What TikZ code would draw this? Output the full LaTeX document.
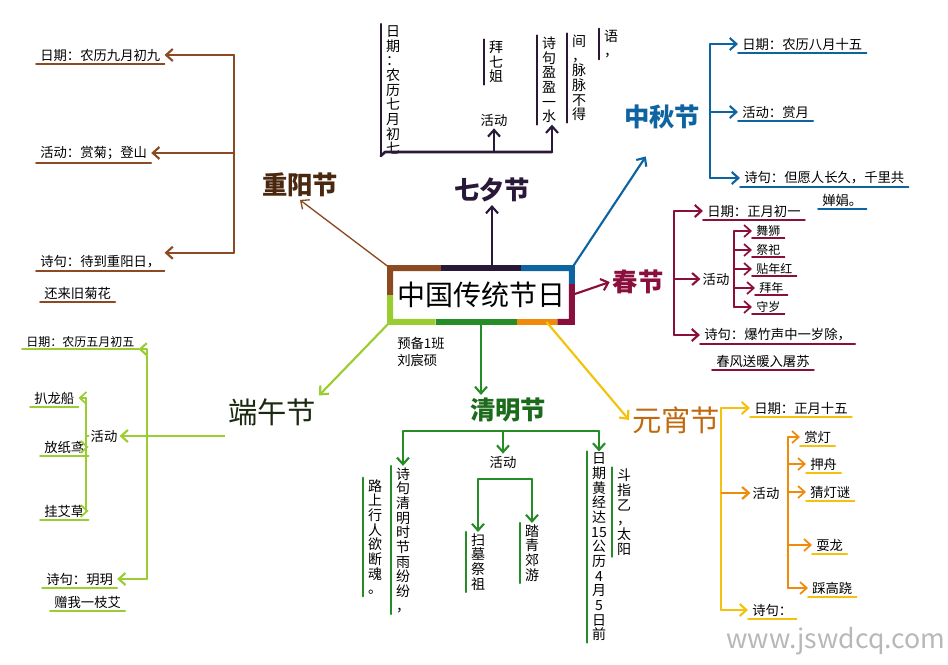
\documentclass[tikz,border=0pt]{standalone}
\usepackage{fontspec}
\setmainfont{Noto Sans CJK SC}
\usetikzlibrary{arrows.meta,calc}

\definecolor{brownc}{HTML}{8B4A22}
\definecolor{cyt}{HTML}{4A2810}
\definecolor{qxc}{HTML}{2A1838}
\definecolor{zqc}{HTML}{0E64A0}
\definecolor{cjc}{HTML}{8A0F3C}
\definecolor{qmc}{HTML}{268C26}
\definecolor{qmt}{HTML}{1C6B1C}
\definecolor{dwc}{HTML}{9ACD32}
\definecolor{dwt}{HTML}{1A2A10}
\definecolor{yxc}{HTML}{F4C20D}
\definecolor{yxo}{HTML}{F08A0A}
\definecolor{yxt}{HTML}{C06A10}

\newcommand\leaffont{\fontsize{10}{12}\selectfont}
\newcommand\smallfont{\fontsize{9}{11}\selectfont}
\newcommand\vfont{\fontsize{10.5}{11}\selectfont}

\makeatletter
\newcommand\vcol[1]{\def\vc@sep{}\@tfor\vc@ch:=#1\do{\vc@sep\vc@ch\def\vc@sep{\\}}}
\makeatother

\tikzstyle{hub} = [font=\fontsize{21}{24}\selectfont, minimum width=136pt, minimum height=40pt, inner sep=2pt]
\tikzstyle{fest} = [font=\fontsize{19}{22}\selectfont\bfseries, inner sep=2pt]
\tikzstyle{festthin} = [font=\fontsize{22}{26}\selectfont, inner sep=2pt]
\tikzstyle{lbl} = [font=\leaffont, inner sep=1.5pt]
\tikzstyle{note} = [font=\fontsize{10}{13}\selectfont, align=left]
\tikzstyle{arr} = [-{Straight Barb[length=5pt,width=9pt]}, line width=1.6pt]
\tikzstyle{ln} = [line width=2pt, line cap=round, line join=round]
\tikzstyle{bord} = [line width=4.5pt]
\tikzstyle{wm} = [font=\fontsize{20}{24}\selectfont, text=gray!70, opacity=0.8, inner sep=0pt]

\tikzset{
    leaf/.style={anchor=west, inner xsep=3pt, inner ysep=2pt, font=\leaffont,
        append after command={(\tikzlastnode.south west) edge[draw=#1, line width=1.3pt, line cap=round] (\tikzlastnode.south east)}},
    sleaf/.style={leaf=#1, font=\smallfont, inner ysep=1pt},
    vleaf/.style={align=center, text width=1.2em, inner sep=1pt, font=\vfont,
        append after command={([xshift=-2pt]\tikzlastnode.north west) edge[draw=#1, line width=1.6pt, line cap=round] ([xshift=-2pt]\tikzlastnode.south west)}}
}

\begin{document}
\begin{tikzpicture}[x=0.75pt, y=-0.75pt]
\useasboundingbox (0,0) rectangle (948,664);

% centre
\node[hub] (c) at (481,295) {中国传统节日};
\draw[bord, brownc] (c.west) -- (c.north west) -- ($(c.north west)!.28!(c.north east)$);
\draw[bord, qxc] ($(c.north west)!.28!(c.north east)$) -- ($(c.north west)!.72!(c.north east)$);
\draw[bord, zqc] ($(c.north west)!.72!(c.north east)$) -- (c.north east) -- ($(c.north east)!.3!(c.south east)$);
\draw[bord, cjc] ($(c.north east)!.3!(c.south east)$) -- (c.south east) -- ($(c.south east)!.08!(c.south west)$);
\draw[bord, yxo] ($(c.south east)!.08!(c.south west)$) -- ($(c.south east)!.3!(c.south west)$);
\draw[bord, qmc] ($(c.south east)!.3!(c.south west)$) -- ($(c.south east)!.75!(c.south west)$);
\draw[bord, dwc] ($(c.south east)!.75!(c.south west)$) -- (c.south west) -- (c.west);
\node[note] (nt) at (421,352) {预备1班\\刘宸硕};

% 七夕节
\node[fest, qxc] (qx) at (492,190) {七夕节};
\draw[arr, qxc] (c.north -| qx) -- (qx.south);
\coordinate (qxk) at (385,152);
\coordinate (qxr) at (552,152);
\node[vleaf=qxc] (qxd) at (393,90) {\vcol{日期：农历七月初七}};
\node[lbl] (qxh) at (494,120) {活动};
\node[vleaf=qxc] (qxb) at (496,62) {\vcol{拜七姐}};
\node[vleaf=qxc] (qxp1) at (549,80) {\vcol{诗句盈盈一水}};
\node[vleaf=qxc] (qxp2) at (579,78) {\vcol{间，脉脉不得}};
\node[vleaf=qxc] (qxp3) at (611,44) {\vcol{语，}};
\draw[ln, qxc] ([xshift=-2pt]qxd.south west) -- (qxk) -- (qxr);
\draw[arr, qxc] (qxr -| qxh) -- (qxh.south);
\draw[arr, qxc] (qxr) -- (qxr |- qxp1.south);

% 重阳节
\node[fest, cyt] (cy) at (300,185) {重阳节};
\draw[arr, brownc, line width=1pt] (c.north west) -- (cy.south);
\coordinate (cyk) at (234,0);
\node[leaf=brownc] (cyd) at (36,55) {日期：农历九月初九};
\node[leaf=brownc] (cyh) at (36,153) {活动：赏菊；登山};
\node[leaf=brownc] (cys1) at (36,262) {诗句：待到重阳日，};
\node[leaf=brownc] (cys2) at (40,293) {还来旧菊花};
\draw[ln, brownc] (cyk |- cyd) -- (cyk |- cys1.north);
\draw[arr, brownc] (cyk |- cyd) -- (cyd.east);
\draw[arr, brownc] (cyk |- cyh) -- (cyh.east);
\draw[arr, brownc] (cyk |- cys1.north) -- (cys1.north east);

% 中秋节
\node[fest, zqc] (zq) at (662,117) {中秋节};
\draw[arr, zqc, shorten >=22pt] (c.north east) -- (zq.south);
\coordinate (zqk) at (710,0);
\node[leaf=zqc] (zqd) at (738,44) {日期：农历八月十五};
\node[leaf=zqc] (zqh) at (738,112) {活动：赏月};
\node[leaf=zqc] (zqs1) at (740,178) {诗句：但愿人长久，千里共};
\node[leaf=zqc] (zqs2) at (818,200) {婵娟。};
\draw[ln, zqc] (zqk |- zqd) -- (zqk |- zqs1);
\draw[arr, zqc] (zqk |- zqd) -- (zqd.west);
\draw[arr, zqc] (zqk |- zqh) -- (zqh.west);
\draw[arr, zqc] (zqk |- zqs1) -- (zqs1.west);

% 春节
\node[fest, cjc] (cj) at (638,282) {春节};
\draw[arr, cjc] (c.east) -- (cj.west);
\coordinate (cjk) at (674,0);
\coordinate (cjm) at (734,0);
\node[leaf=cjc] (cjd) at (703,211) {日期：正月初一};
\node[lbl] (cjh) at (716,279) {活动};
\node[sleaf=cjc] (cjl1) at (752,231) {舞狮};
\node[sleaf=cjc] (cjl2) at (752,250) {祭祀};
\node[sleaf=cjc] (cjl3) at (752,269) {贴年红};
\node[sleaf=cjc] (cjl4) at (755,288) {拜年};
\node[sleaf=cjc] (cjl5) at (752,307) {守岁};
\node[leaf=cjc] (cjs1) at (700,335) {诗句：爆竹声中一岁除，};
\node[leaf=cjc] (cjs2) at (712,361) {春风送暖入屠苏};
\draw[ln, cjc] (cjk |- cjd) -- (cjk |- cjs1);
\draw[arr, cjc] (cjk |- cjd) -- (cjd.west);
\draw[arr, cjc] (cjk |- cjh) -- (cjh.west);
\draw[arr, cjc] (cjk |- cjs1) -- (cjs1.west);
\draw[ln, cjc] (cjm |- cjl1) -- (cjm |- cjl5);
\foreach \i in {1,...,5}
    \draw[arr, cjc, line width=1.3pt] (cjm |- cjl\i) -- (cjl\i.west);

% 清明节
\node[fest, qmt] (qm) at (508,410) {清明节};
\draw[arr, qmc] (c.south) -- (c.south |- qm.north);
\coordinate (qmk) at (0,431);
\coordinate (qmj) at (0,479);
\node[vleaf=qmc] (qmp1) at (403,540) {\vcol{诗句清明时节雨纷纷，}};
\node[vleaf=qmc] (qmp2) at (375,537) {\vcol{路上行人欲断魂。}};
\node[lbl] (qmh) at (503,462) {活动};
\node[vleaf=qmc] (qmv1) at (478,562) {\vcol{扫墓祭祖}};
\node[vleaf=qmc] (qmv2) at (532,553) {\vcol{踏青郊游}};
\node[vleaf=qmc] (qmd1) at (599,547) {\vcol{日期黄经达{15}公历4月5日前}};
\node[vleaf=qmc] (qmd2) at (624,512) {\vcol{斗指乙，太阳}};
\draw[ln, qmc] (qmk -| qmp1) -- (qmk -| qmd1);
\draw[arr, qmc] (qmk -| qmp1) -- (qmp1.north);
\draw[arr, qmc] (qmk -| qmh) -- (qmh.north);
\draw[arr, qmc] (qmk -| qmd1) -- (qmd1.north);
\draw[ln, qmc] (qmj -| qmv1) -- (qmj -| qmv2);
\draw[arr, qmc] (qmj -| qmv1) -- (qmv1.north);
\draw[arr, qmc] (qmj -| qmv2) -- (qmv2.north);

% 端午节
\node[festthin, dwt] (dw) at (272,412) {端午节};
\draw[arr, dwc] (c.south west) -- (dw.north east);
\coordinate (dwk) at (147,0);
\coordinate (dwm) at (86,0);
\node[sleaf=dwc] (dwd) at (22,342) {日期：农历五月初五};
\node[lbl] (dwh) at (104,436) {活动};
\node[leaf=dwc] (dwl1) at (30,398) {扒龙船};
\node[leaf=dwc] (dwl2) at (40,447) {放纸鸢};
\node[leaf=dwc] (dwl3) at (40,511) {挂艾草};
\node[leaf=dwc] (dws1) at (42,579) {诗句：玥玥};
\node[leaf=dwc] (dws2) at (50,602) {赠我一枝艾};
\draw[arr, dwc] (dw.west |- dwh) -- (dwh.east);
\draw[ln, dwc] (dwk |- dwd.south) -- (dwk |- dws1);
\draw[arr, dwc] (dwk |- dwd.south) -- (dwd.south east);
\draw[arr, dwc] (dwk |- dws1) -- (dws1.east);
\draw[ln, dwc] (dwm |- dwl1) -- (dwm |- dwl3);
\draw[ln, dwc] (dwh.west) -- (dwh.west -| dwm);
\foreach \i in {1,2,3}
    \draw[arr, dwc, line width=1.3pt] (dwm |- dwl\i) -- (dwl\i.east);

% 元宵节
\node[festthin, yxt] (yx) at (676,420) {元宵节};
\coordinate (yxs) at ($(c.south east)!.14!(c.south west)$);
\draw[arr, yxc] (yxs) -- (yx.west);
\coordinate (yxk) at (721,0);
\coordinate (yxm) at (788,0);
\node[leaf=yxc] (yxd) at (750,408) {日期：正月十五};
\node[lbl] (yxh) at (766,493) {活动};
\node[leaf=yxc] (yxl1) at (800,437) {赏灯};
\node[leaf=yxc] (yxl2) at (806,464) {押舟};
\node[leaf=yxc] (yxl3) at (806,492) {猜灯谜};
\node[leaf=yxc] (yxl4) at (812,545) {耍龙};
\node[leaf=yxc] (yxl5) at (808,588) {踩高跷};
\node[leaf=yxc] (yxs1) at (748,610) {诗句：};
\draw[ln, yxc] (yxk |- yxd) -- (yxk |- yxs1);
\draw[arr, yxc] (yxk |- yxd) -- (yxd.west);
\draw[arr, yxo] (yxk |- yxh) -- (yxh.west);
\draw[arr, yxc] (yxk |- yxs1) -- (yxs1.west);
\draw[ln, yxo] (yxm |- yxl1) -- (yxm |- yxl5);
\foreach \i in {1,...,5}
    \draw[arr, yxo, line width=1.3pt] (yxm |- yxl\i) -- (yxl\i.west);
\node[wm] (wm) at (836,641) {www.jswdcq.com};
\end{tikzpicture}
\end{document}
